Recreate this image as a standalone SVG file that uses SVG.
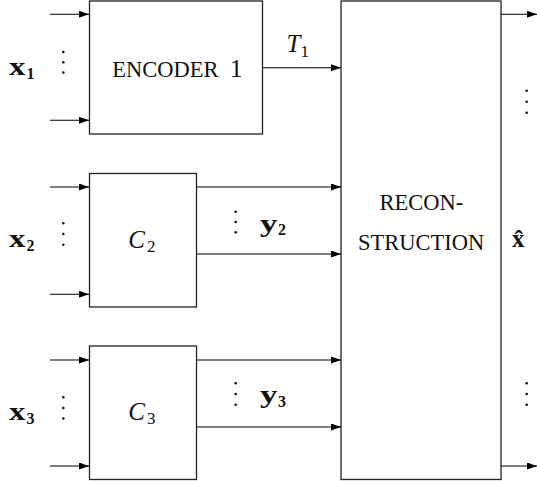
<svg xmlns="http://www.w3.org/2000/svg" width="537" height="481" viewBox="0 0 537 481">
<style>
.box{fill:#fff;stroke:#222;stroke-width:1.3}
.ln{stroke:#000;stroke-width:1.1;fill:none}
.dot{fill:#111}
</style>
<defs>
<marker id="ah" markerUnits="userSpaceOnUse" markerWidth="10" markerHeight="8" refX="10" refY="3.5" orient="auto">
<path d="M0,0 L10,3.5 L0,7 z" fill="#000"/>
</marker>
</defs>
<g id="encoder1" font-family="Liberation Serif, serif" fill="#111">
<rect class="box" x="89.5" y="1" width="173" height="133"/>
<text x="112.3" y="76.7" font-size="22.5">ENCODER</text>
<text x="230" y="76.7" font-size="25">1</text>
</g>
<g id="c2" font-family="Liberation Serif, serif" fill="#111">
<rect class="box" x="89.5" y="173.5" width="107" height="133.5"/>
<text x="128.3" y="248" font-size="25" font-style="italic">C</text>
<text x="147" y="252" font-size="17">2</text>
</g>
<g id="c3" font-family="Liberation Serif, serif" fill="#111">
<rect class="box" x="89.5" y="346" width="107" height="133.5"/>
<text x="128.3" y="420" font-size="25" font-style="italic">C</text>
<text x="147" y="424" font-size="17">3</text>
</g>
<g id="reconstruction" font-family="Liberation Serif, serif" fill="#111">
<rect class="box" x="341" y="1" width="160" height="478.5"/>
<text x="421.3" y="210" font-size="22.5" text-anchor="middle">RECON-</text>
<text x="421.2" y="250" font-size="22.5" text-anchor="middle">STRUCTION</text>
</g>
<g id="connectors">
<line class="ln" x1="50" y1="14.3" x2="89" y2="14.3" marker-end="url(#ah)"/>
<line class="ln" x1="50" y1="120.3" x2="89" y2="120.3" marker-end="url(#ah)"/>
<line class="ln" x1="50" y1="187" x2="89" y2="187" marker-end="url(#ah)"/>
<line class="ln" x1="50" y1="294.3" x2="89" y2="294.3" marker-end="url(#ah)"/>
<line class="ln" x1="50" y1="360" x2="89" y2="360" marker-end="url(#ah)"/>
<line class="ln" x1="50" y1="466" x2="89" y2="466" marker-end="url(#ah)"/>
<line class="ln" x1="263" y1="67.7" x2="341" y2="67.7" marker-end="url(#ah)"/>
<line class="ln" x1="197" y1="187" x2="341" y2="187" marker-end="url(#ah)"/>
<line class="ln" x1="197" y1="254" x2="341" y2="254" marker-end="url(#ah)"/>
<line class="ln" x1="197" y1="360" x2="341" y2="360" marker-end="url(#ah)"/>
<line class="ln" x1="197" y1="427" x2="341" y2="427" marker-end="url(#ah)"/>
<line class="ln" x1="501" y1="14.3" x2="537" y2="14.3" marker-end="url(#ah)"/>
<line class="ln" x1="501" y1="466" x2="537" y2="466" marker-end="url(#ah)"/>
</g>
<g id="labels" font-family="Liberation Serif, serif" fill="#111">
<text x="286.5" y="52" font-size="25" font-style="italic">T</text>
<text x="300.5" y="56.5" font-size="17">1</text>
<text x="9" y="75" font-size="25" font-weight="bold" textLength="16.5" lengthAdjust="spacingAndGlyphs">x</text>
<text x="26.5" y="78.5" font-size="16" font-weight="bold">1</text>
<text x="9" y="247.3" font-size="25" font-weight="bold" textLength="16.5" lengthAdjust="spacingAndGlyphs">x</text>
<text x="26.5" y="250.8" font-size="16" font-weight="bold">2</text>
<text x="9" y="420" font-size="25" font-weight="bold" textLength="16.5" lengthAdjust="spacingAndGlyphs">x</text>
<text x="26.5" y="423.5" font-size="16" font-weight="bold">3</text>
<text x="260" y="231.5" font-size="25" font-weight="bold" textLength="17.5" lengthAdjust="spacingAndGlyphs">y</text>
<text x="278" y="235" font-size="16" font-weight="bold">2</text>
<text x="260" y="403" font-size="25" font-weight="bold" textLength="17.5" lengthAdjust="spacingAndGlyphs">y</text>
<text x="278" y="406.5" font-size="16" font-weight="bold">3</text>
<text x="512" y="247.3" font-size="25" font-weight="bold">x̂</text>
<circle class="dot" cx="63.3" cy="52" r="1.3"/><circle class="dot" cx="63.3" cy="62.3" r="1.3"/><circle class="dot" cx="63.3" cy="72.5" r="1.3"/>
<circle class="dot" cx="63.3" cy="223.3" r="1.3"/><circle class="dot" cx="63.3" cy="234" r="1.3"/><circle class="dot" cx="63.3" cy="244.7" r="1.3"/>
<circle class="dot" cx="63.3" cy="397.3" r="1.3"/><circle class="dot" cx="63.3" cy="408" r="1.3"/><circle class="dot" cx="63.3" cy="418.5" r="1.3"/>
<circle class="dot" cx="235.7" cy="211.7" r="1.3"/><circle class="dot" cx="235.7" cy="222" r="1.3"/><circle class="dot" cx="235.7" cy="232.3" r="1.3"/>
<circle class="dot" cx="235.7" cy="383.3" r="1.3"/><circle class="dot" cx="235.7" cy="394" r="1.3"/><circle class="dot" cx="235.7" cy="404.7" r="1.3"/>
<circle class="dot" cx="526.7" cy="90.7" r="1.3"/><circle class="dot" cx="526.7" cy="101.7" r="1.3"/><circle class="dot" cx="526.7" cy="112.7" r="1.3"/>
<circle class="dot" cx="526.7" cy="383.3" r="1.3"/><circle class="dot" cx="526.7" cy="394" r="1.3"/><circle class="dot" cx="526.7" cy="404.7" r="1.3"/>
</g>
</svg>
